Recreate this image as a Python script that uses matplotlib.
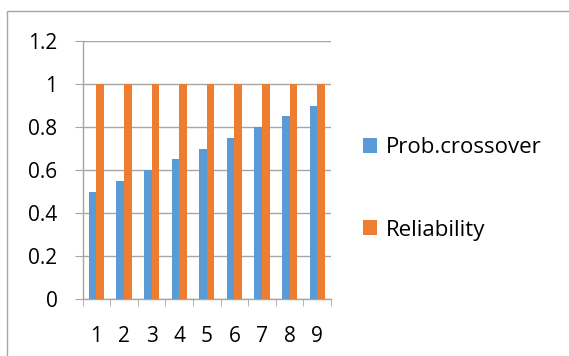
import numpy as np
import matplotlib.pyplot as plt
from matplotlib.patches import Rectangle

# data
categories = ['1', '2', '3', '4', '5', '6', '7', '8', '9']
prob_crossover = [0.5, 0.55, 0.6, 0.65, 0.7, 0.75, 0.8, 0.85, 0.9]
reliability = [1, 1, 1, 1, 1, 1, 1, 1, 1]
y_ticks = [0, 0.2, 0.4, 0.6, 0.8, 1.0, 1.2]
y_labels = ['0', '0.2', '0.4', '0.6', '0.8', '1', '1.2']

plt.rcParams['font.family'] = ['Open Sans', 'DejaVu Sans']
grid_col = '#a6a6a6'

fig = plt.figure(figsize=(5.69, 3.56), dpi=100)
ax = fig.add_axes([82.5 / 569, 1 - 299 / 356, (331 - 82.5) / 569, (299 - 41) / 356])

# chart border, open at right and bottom
fig.patches.append(Rectangle((7 / 569, -0.1), 1.2, 1 - 11 / 356 + 0.1,
                             transform=fig.transFigure, fill=False,
                             edgecolor=grid_col, linewidth=1.0))

x = np.arange(1, len(categories) + 1)
w = 0.275
ax.bar(x - w / 2, prob_crossover, w, color='#5B9BD5', label='Prob.crossover', zorder=3)
ax.bar(x + w / 2, reliability, w, color='#ED7D31', label='Reliability', zorder=3)

ax.set_xlim(0.5, len(categories) + 0.5)
ax.set_ylim(0, 1.2)
ax.set_yticks(y_ticks)
ax.set_yticklabels(y_labels)
ax.set_xticks(x)
ax.set_xticklabels(categories)
ax.set_xticks(np.arange(0.5, len(categories) + 1), minor=True)

ax.yaxis.grid(True, color=grid_col, linewidth=1.0, zorder=0)
ax.set_axisbelow(True)
for s in ['top', 'right']:
    ax.spines[s].set_visible(False)
for s in ['left', 'bottom']:
    ax.spines[s].set_color(grid_col)
    ax.spines[s].set_linewidth(1.0)

ax.tick_params(axis='y', length=6, color=grid_col, pad=12, labelsize=15)
ax.tick_params(axis='x', which='major', length=0, pad=19.5, labelsize=15)
ax.tick_params(axis='x', which='minor', length=5, color=grid_col)

fig.legend(loc='center left', bbox_to_anchor=(363 / 569, 1 - 189 / 356),
           frameon=False, fontsize=16, borderpad=0, borderaxespad=0,
           handlelength=0.65, handleheight=0.65, handletextpad=0.36,
           labelspacing=2.75)

fig.savefig('out.png', dpi=100)
